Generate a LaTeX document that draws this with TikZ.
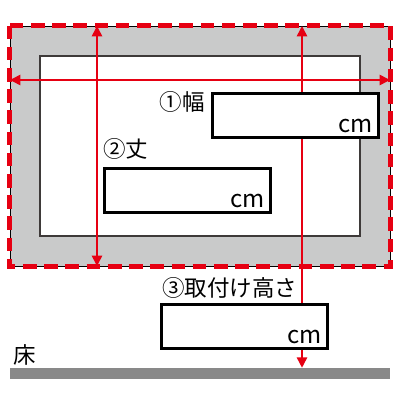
\documentclass[tikz,border=0pt]{standalone}
\usepackage{fontspec}
\setmainfont{Noto Sans CJK JP}
\usepackage{tikz}
\usetikzlibrary{positioning}
\usetikzlibrary{arrows.meta}
\definecolor{frameGray}{HTML}{C9CACA}
\definecolor{floorGray}{HTML}{898989}
\definecolor{markRed}{HTML}{E60012}
\definecolor{edgeDark}{HTML}{3E3A39}
\tikzstyle{framebox} = [rectangle, minimum width=9.5cm, minimum height=6cm, draw=black, fill=frameGray, line width=0.6pt, inner sep=0pt]
\tikzstyle{openingbox} = [rectangle, minimum width=8cm, minimum height=4.5cm, draw=edgeDark, fill=white, line width=1.1pt, inner sep=0pt]
\tikzstyle{inputbox} = [rectangle, minimum width=4.15cm, minimum height=1.12cm, draw=black, fill=white, line width=2.1pt, inner sep=0pt]
\tikzstyle{unitlabel} = [inner sep=0pt, font=\fontsize{17}{20}\selectfont]
\tikzstyle{itemlabel} = [inner sep=0pt, font=\fontsize{16}{19}\selectfont]
\tikzstyle{dimline} = [draw=markRed, line width=1.1pt, -{Triangle[length=0.26cm, width=0.26cm]}]

\begin{document}
\begin{tikzpicture}[x=0.025cm, y=-0.025cm]
			\useasboundingbox (0,0) rectangle (400,400);
			\node[framebox](frame) at (200,146){};
			\draw[markRed, line width=3pt, dash pattern=on 0.34cm off 0.19cm] (frame.north west) rectangle (frame.south east);
			\node[openingbox](opening) at (200,146){};
			\node[rectangle, minimum width=9.5cm, minimum height=0.275cm, fill=floorGray, inner sep=0pt](floor) at (200,373.5){};
			\coordinate (widthL) at (10,80);
			\coordinate (widthR) at (390,80);
			\coordinate (heightT) at (97,26);
			\coordinate (heightB) at (97,266);
			\coordinate (mountT) at (302,26);
			\draw[dimline, {Triangle[length=0.26cm, width=0.26cm]}-{Triangle[length=0.26cm, width=0.26cm]}] (widthL) -- (widthR);
			\draw[dimline, {Triangle[length=0.26cm, width=0.26cm]}-{Triangle[length=0.26cm, width=0.26cm]}] (heightT) -- (heightB);
			\draw[dimline, {Triangle[length=0.26cm, width=0.26cm]}-{Triangle[length=0.26cm, width=0.26cm]}] (mountT) -- (mountT |- floor.north);
			\node[inputbox](widthbox) at (295.5,115.5){};
			\node[inputbox](heightbox) at (187.5,190.5){};
			\node[inputbox](mountbox) at (244.5,326.5){};
			\node[unitlabel, above left=0.15cm and 0.18cm of widthbox.south east](widthcm){cm};
			\node[unitlabel, above left=0.15cm and 0.18cm of heightbox.south east](heightcm){cm};
			\node[unitlabel, above left=0.15cm and 0.18cm of mountbox.south east](mountcm){cm};
			\node[itemlabel, below left=0.0cm and 0.15cm of widthbox.north west](widthtitle){①幅};
			\node[itemlabel, above right=0.18cm and 0cm of heightbox.north west](heighttitle){②丈};
			\node[itemlabel, above right=0.1cm and 0.05cm of mountbox.north west](mounttitle){③取付け高さ};
			\node[itemlabel, above right=0.06cm and 0.1cm of floor.north west](floorlabel){床};
		\end{tikzpicture}
\end{document}
